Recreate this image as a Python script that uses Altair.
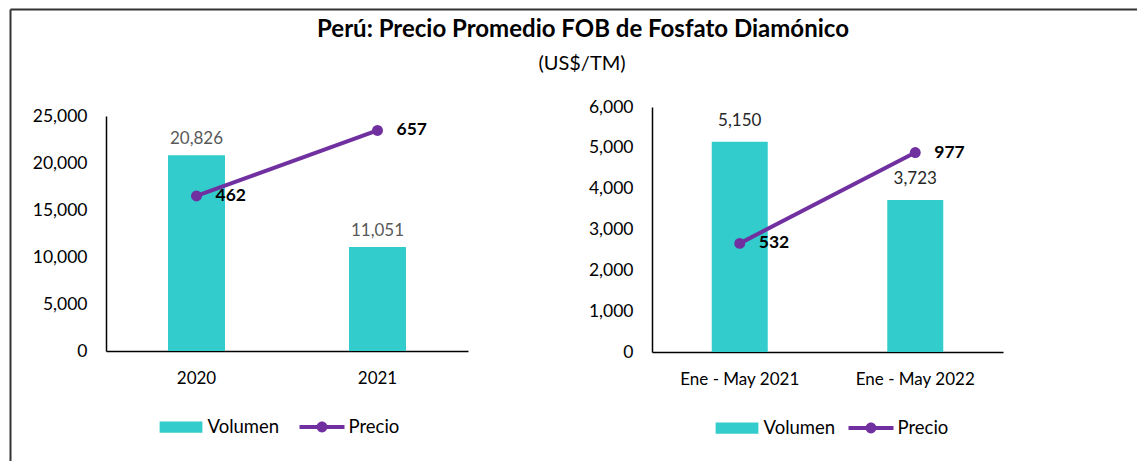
import altair as alt
import pandas as pd

TITLE = "Perú: Precio Promedio FOB de Fosfato Diamónico"
SUBTITLE = "(US$/TM)"
SERIES = ["Volumen", "Precio"]

left_categories = ["2020", "2021"]
left_volumen = [20826, 11051]
left_precio = [462, 657]
left_y_ticks = [0, 5000, 10000, 15000, 20000, 25000]

right_categories = ["Ene - May 2021", "Ene - May 2022"]
right_volumen = [5150, 3723]
right_precio = [532, 977]
right_y_ticks = [0, 1000, 2000, 3000, 4000, 5000, 6000]

TEAL = "#33CCCC"
PURPLE = "#7030A0"
FONT = "Lato"
W, H = 1129, 453

RECT_PATH = "M-0.95,-0.25H0.95V0.25H-0.95Z"
LINE_DOT_PATH = ("M-1,-0.09H1V0.09H-1Z "
                 "M0.24,0A0.24,0.24 0 1,1 -0.24,0A0.24,0.24 0 1,1 0.24,0Z")


def legend_def(lx, ly, colpad):
    return alt.Legend(title=None, orient="none", legendX=lx, legendY=ly,
                      direction="horizontal", symbolSize=2025,
                      labelFont=FONT, labelFontSize=18.5, labelColor="#000",
                      labelOffset=4, columnPadding=colpad,
                      symbolStrokeWidth=0, padding=0)


def panel(cats, vol, pre, ticks, price_max, x_range, y_range, axis_x, axis_y,
          bar_size, vol_color, vol_dy, lx, ly, colpad):
    df = pd.DataFrame({"cat": cats, "vol": vol, "pre": pre})
    base = alt.Chart(df)
    x = alt.X("cat:N", sort=cats, title=None,
              scale=alt.Scale(range=x_range, paddingInner=0, paddingOuter=0),
              axis=alt.Axis(orient="bottom", offset=axis_y - H, labelAngle=0,
                            ticks=False, tickSize=0, labelPadding=19,
                            domainColor="#000", domainWidth=1.5, grid=False,
                            labelFont=FONT, labelFontSize=17, labelColor="#000"))
    y_vol = alt.Y("vol:Q", title=None,
                  scale=alt.Scale(domain=[0, ticks[-1]], range=y_range, nice=False),
                  axis=alt.Axis(orient="left", offset=-axis_x, values=ticks,
                                format=",d", ticks=False, tickSize=0,
                                labelPadding=19, domainColor="#000",
                                domainWidth=1.5, grid=False, labelFont=FONT,
                                labelFontSize=17.5, labelColor="#000"))
    bars = base.mark_bar(size=bar_size, color=TEAL).encode(x=x, y=y_vol)
    bar_text = base.mark_text(font=FONT, fontSize=17, color=vol_color,
                              baseline="alphabetic", dy=vol_dy).encode(
        x=x, y=y_vol, text=alt.Text("vol:Q", format=",d"))
    y_pre = alt.Y("pre:Q", axis=None,
                  scale=alt.Scale(domain=[0, price_max], range=y_range, nice=False))
    line = base.mark_line(color=PURPLE, strokeWidth=4).encode(x=x, y=y_pre)
    pts = base.mark_point(filled=True, color=PURPLE, size=120, opacity=1).encode(x=x, y=y_pre)
    pre_text = base.mark_text(font=FONT, fontSize=17.5, fontWeight="bold",
                              color="#000", align="left", baseline="middle",
                              dx=19).encode(
        x=x, y=y_pre, text=alt.Text("pre:Q", format=",d"))
    leg = alt.Chart(pd.DataFrame({"serie": SERIES})).mark_point(
        filled=True, opacity=1).encode(
        x=alt.value(-500), y=alt.value(-500),
        color=alt.Color("serie:N", sort=SERIES,
                        scale=alt.Scale(domain=SERIES, range=[TEAL, PURPLE]),
                        legend=legend_def(lx, ly, colpad)),
        shape=alt.Shape("serie:N", sort=SERIES,
                        scale=alt.Scale(domain=SERIES, range=[RECT_PATH, LINE_DOT_PATH]),
                        legend=legend_def(lx, ly, colpad)))
    vol_layer = alt.layer(bars, bar_text)
    pre_layer = alt.layer(line, pts, pre_text)
    return alt.layer(vol_layer, pre_layer, leg).resolve_scale(y="independent")


left = panel(left_categories, left_volumen, left_precio, left_y_ticks, 700,
             [98, 460], [343, 108], 98, 343, 57, "#595959", -11,
             150.5, 396.5, 20)
right = panel(right_categories, right_volumen, right_precio, right_y_ticks, 1200,
              [644, 995], [344, 99], 644, 344, 56, "#262626", -16,
              706.5, 397.5, 13)

one = pd.DataFrame({"t": [TITLE], "s": [SUBTITLE]})
title = alt.Chart(one).mark_text(font=FONT, fontSize=24, fontWeight="bold",
                                 color="#000", align="center", baseline="middle").encode(
    text="t:N", x=alt.value(575), y=alt.value(22))
subtitle = alt.Chart(one).mark_text(font=FONT, fontSize=20, color="#000",
                                    align="center", baseline="middle").encode(
    text="s:N", x=alt.value(574), y=alt.value(56))
frame_left = alt.Chart(one).mark_rule(color="#333333", strokeWidth=2).encode(
    x=alt.value(2.5), y=alt.value(1.5), y2=alt.value(H + 10))
frame_top = alt.Chart(one).mark_rule(color="#333333", strokeWidth=2).encode(
    x=alt.value(2.5), x2=alt.value(W + 10), y=alt.value(1.5))

chart = alt.layer(frame_left, frame_top, title, subtitle, left, right).resolve_scale(
    x="independent", y="independent", color="independent", shape="independent"
).properties(
    width=W, height=H, padding=0,
    autosize=alt.AutoSizeParams(type="none"),
).configure_view(stroke=None)

chart.save("out.html", embed_options={"renderer": "svg", "actions": False})
